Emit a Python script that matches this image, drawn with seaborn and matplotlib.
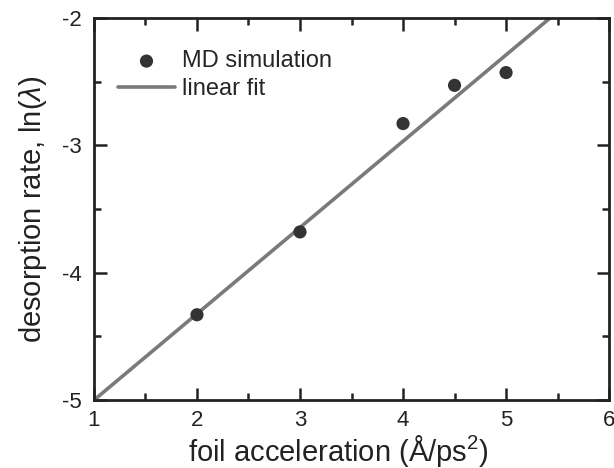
import numpy as np
import pandas as pd
import seaborn as sns
import matplotlib
matplotlib.use("Agg")
from matplotlib import pyplot as plt
from matplotlib.ticker import MultipleLocator

# MD simulation points
accel = [2.0, 3.0, 4.0, 4.5, 5.0]
rate = [-4.33, -3.68, -2.83, -2.53, -2.43]

# linear fit, end points
fit_accel = [1.0, 5.43]
fit_rate = [-5.0, -2.0]

sns.set_theme(style="ticks")
plt.rcParams['font.family'] = ['Liberation Sans', 'DejaVu Sans']
plt.rcParams['mathtext.fontset'] = 'custom'
plt.rcParams['mathtext.rm'] = 'Liberation Sans'
plt.rcParams['mathtext.it'] = 'Liberation Sans:italic'
plt.rcParams['axes.unicode_minus'] = False

fig = plt.figure(figsize=(6.14, 4.68), dpi=100)
ax = fig.add_axes([0.153, 0.145, 0.839, 0.817])

data = pd.DataFrame({'x': accel, 'y': rate})
data_fit = pd.DataFrame({'x': fit_accel, 'y': fit_rate})

sns.lineplot(data=data_fit, x='x', y='y', ax=ax, color='#7a7a7a', linewidth=2.6,
             label='linear fit', zorder=2)
sns.scatterplot(data=data, x='x', y='y', ax=ax, color='#333333', s=90,
                edgecolor='none', label='MD simulation', zorder=3)

ax.set_xlim(1, 6)
ax.set_ylim(-5, -2)
ax.xaxis.set_major_locator(MultipleLocator(1))
ax.xaxis.set_minor_locator(MultipleLocator(0.5))
ax.yaxis.set_major_locator(MultipleLocator(1))
ax.yaxis.set_minor_locator(MultipleLocator(0.5))
ax.tick_params(which='both', direction='in', top=True, right=True,
               labelsize=16, color='#222222', width=1.8, pad=9,
               labelcolor='#222222')
ax.tick_params(axis='x', which='both', pad=7)
ax.tick_params(which='major', length=9)
ax.tick_params(which='minor', length=5)
for s in ax.spines.values():
    s.set_linewidth(2)
    s.set_color('#222222')

ax.set_xlabel('foil acceleration (Å/ps$^2$)', fontsize=21, color='#222222')
ax.xaxis.set_label_coords(0.475, -0.086, transform=ax.transAxes)
ax.xaxis.label.set_va('top')
ax.set_ylabel('desorption rate, ln($\\lambda$)', fontsize=21, labelpad=9, color='#222222')

handles, labels = ax.get_legend_handles_labels()
order = [labels.index('MD simulation'), labels.index('linear fit')]
ax.legend([handles[i] for i in order], [labels[i] for i in order],
          loc='upper left', frameon=False, fontsize=17, handlelength=2.4,
          handletextpad=0.3, borderpad=0, borderaxespad=0, labelspacing=0.25,
          bbox_to_anchor=(0.047, 0.915))

fig.savefig('out.png', dpi=100)
